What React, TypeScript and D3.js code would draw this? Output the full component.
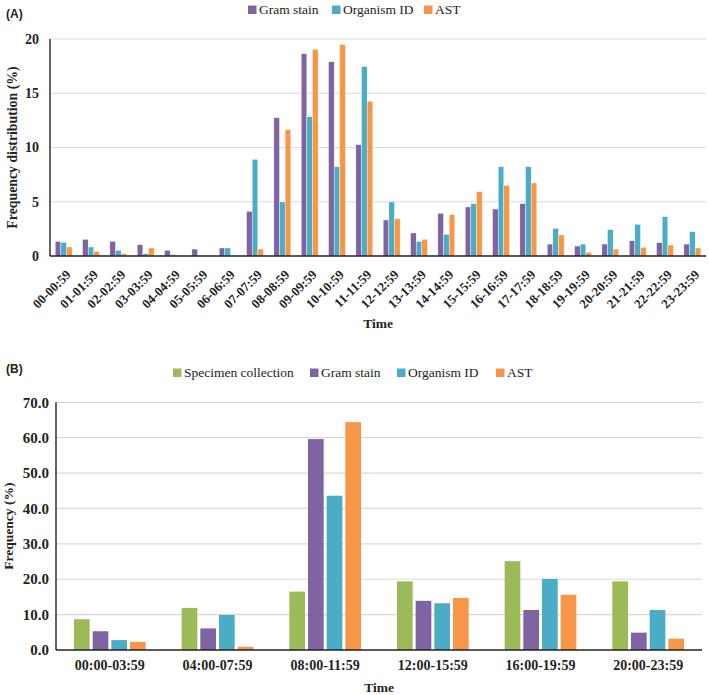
import * as d3 from "d3";

// Panel A: hourly distribution
const hourLabels = [
  "00-00:59", "01-01:59", "02-02:59", "03-03:59", "04-04:59", "05-05:59",
  "06-06:59", "07-07:59", "08-08:59", "09-09:59", "10-10:59", "11-11:59",
  "12-12:59", "13-13:59", "14-14:59", "15-15:59", "16-16:59", "17-17:59",
  "18-18:59", "19-19:59", "20-20:59", "21-21:59", "22-22:59", "23-23:59",
];
const hourGram = [1.35, 1.54, 1.35, 1.04, 0.52, 0.64, 0.74, 4.12, 12.75, 18.65, 17.9, 10.26, 3.32, 2.12, 3.93, 4.52, 4.33, 4.82, 1.1, 0.92, 1.1, 1.41, 1.23, 1.1];
const hourOrganism = [1.26, 0.83, 0.52, 0.22, 0.12, 0.03, 0.74, 8.91, 4.98, 12.84, 8.23, 17.45, 4.98, 1.35, 2.0, 4.82, 8.23, 8.23, 2.55, 1.1, 2.43, 2.92, 3.62, 2.24];
const hourAst = [0.83, 0.43, 0.22, 0.74, 0.05, 0.03, 0.05, 0.64, 11.64, 19.05, 19.48, 14.26, 3.44, 1.54, 3.81, 5.93, 6.51, 6.73, 1.94, 0.34, 0.64, 0.8, 1.01, 0.74];
const hourTicks = [0, 5, 10, 15, 20];

// Panel B: 4-hour blocks
const blockLabels = ["00:00-03:59", "04:00-07:59", "08:00-11:59", "12:00-15:59", "16:00-19:59", "20:00-23:59"];
const blockSpecimen = [8.7, 11.9, 16.5, 19.4, 25.1, 19.4];
const blockGram = [5.3, 6.1, 59.6, 13.9, 11.3, 4.9];
const blockOrganism = [2.8, 9.9, 43.6, 13.2, 20.1, 11.3];
const blockAst = [2.3, 0.9, 64.4, 14.7, 15.6, 3.2];
const blockTicks = [0, 10, 20, 30, 40, 50, 60, 70];

const GREEN = "#9bbb59";
const PURPLE = "#8064a2";
const CYAN = "#4bacc6";
const ORANGE = "#f79646";
const SERIF = "'Liberation Serif', 'Times New Roman', serif";

type Series = { name: string; color: string; values: number[] };

function Legend({ items, y }: { items: { name: string; color: string; x: number }[]; y: number }) {
  return (
    <g>
      {items.map((it) => (
        <g key={it.name}>
          <rect x={it.x} y={y - 8.5} width={8.5} height={8.5} fill={it.color} />
          <text x={it.x + 11} y={y} fontFamily={SERIF} fontSize={13.5} fill="#222">{it.name}</text>
        </g>
      ))}
    </g>
  );
}

export default function App() {
  // ---- Panel A ----
  const aLeft = 50, aRight = 706, aTop = 39, aBottom = 256;
  const ax = d3.scaleBand().domain(hourLabels).range([aLeft, aRight]).paddingInner(0.38).paddingOuter(0.19);
  const ay = d3.scaleLinear().domain([0, 20]).range([aBottom, aTop]);
  const aSeries: Series[] = [
    { name: "Gram stain", color: PURPLE, values: hourGram },
    { name: "Organism ID", color: CYAN, values: hourOrganism },
    { name: "AST", color: ORANGE, values: hourAst },
  ];
  const ax1 = d3.scaleBand().domain(aSeries.map((s) => s.name)).range([0, ax.bandwidth()]).padding(0);

  // ---- Panel B ----
  const bLeft = 56, bRight = 702, bTop = 402.3, bBottom = 650;
  const bx = d3.scaleBand().domain(blockLabels).range([bLeft, bRight]).paddingInner(0.334).paddingOuter(0.167);
  const by = d3.scaleLinear().domain([0, 70]).range([bBottom, bTop]);
  const bSeries: Series[] = [
    { name: "Specimen collection", color: GREEN, values: blockSpecimen },
    { name: "Gram stain", color: PURPLE, values: blockGram },
    { name: "Organism ID", color: CYAN, values: blockOrganism },
    { name: "AST", color: ORANGE, values: blockAst },
  ];
  const bx1 = d3.scaleBand().domain(bSeries.map((s) => s.name)).range([0, bx.bandwidth()]).paddingInner(0.16);

  return (
    <div style={{ position: "absolute", left: 0, top: 0, background: "#fff" }}>
      <svg width={709} height={695} style={{ display: "block" }}>
        <rect width={709} height={695} fill="#fff" />

        {/* ===== Panel A ===== */}
        <text x={6} y={18} fontFamily="'Liberation Sans', Arial, sans-serif" fontWeight="bold" fontSize={12} fill="#222">(A)</text>
        <Legend
          y={14}
          items={[
            { name: "Gram stain", color: PURPLE, x: 248 },
            { name: "Organism ID", color: CYAN, x: 332 },
            { name: "AST", color: ORANGE, x: 424 },
          ]}
        />
        {hourTicks.filter((t) => t > 0).map((t) => (
          <line key={t} x1={aLeft} x2={aRight} y1={ay(t)} y2={ay(t)} stroke="#d9d9d9" strokeWidth={1.2} />
        ))}
        {hourTicks.map((t) => (
          <text key={t} x={39} y={ay(t)} dy="0.35em" textAnchor="end" fontFamily={SERIF} fontWeight="bold" fontSize={14} fill="#222">{t}</text>
        ))}
        {hourLabels.map((lab, i) => (
          <g key={lab} transform={`translate(${ax(lab)!},0)`}>
            {aSeries.map((s) => (
              <rect
                key={s.name}
                x={ax1(s.name)!}
                y={ay(s.values[i])}
                width={ax1.bandwidth()}
                height={aBottom - ay(s.values[i])}
                fill={s.color}
                stroke="#fff"
                strokeWidth={0.4}
              />
            ))}
          </g>
        ))}
        <line x1={aLeft} x2={aLeft} y1={aTop} y2={aBottom} stroke="#222" strokeWidth={1.4} />
        <line x1={aLeft} x2={aRight} y1={aBottom} y2={aBottom} stroke="#222" strokeWidth={1.4} />
        {hourLabels.map((lab) => (
          <text
            key={lab}
            transform={`translate(${ax(lab)! + ax.bandwidth() / 2 + 1.5},${aBottom + 13}) rotate(-45)`}
            dy="0.7em"
            textAnchor="end"
            fontFamily={SERIF}
            fontWeight="bold"
            fontSize={13}
            fill="#222"
          >
            {lab}
          </text>
        ))}
        <text
          transform={`translate(17,${(aTop + aBottom) / 2}) rotate(-90)`}
          textAnchor="middle"
          fontFamily={SERIF}
          fontWeight="bold"
          fontSize={13.8}
          fill="#222"
        >
          Frequency distribution (%)
        </text>
        <text x={(aLeft + aRight) / 2} y={328} textAnchor="middle" fontFamily={SERIF} fontWeight="bold" fontSize={13.5} fill="#222">Time</text>

        {/* ===== Panel B ===== */}
        <text x={6} y={373} fontFamily="'Liberation Sans', Arial, sans-serif" fontWeight="bold" fontSize={12} fill="#222">(B)</text>
        <Legend
          y={377}
          items={[
            { name: "Specimen collection", color: GREEN, x: 173 },
            { name: "Gram stain", color: PURPLE, x: 310 },
            { name: "Organism ID", color: CYAN, x: 397 },
            { name: "AST", color: ORANGE, x: 496 },
          ]}
        />
        {blockTicks.filter((t) => t > 0).map((t) => (
          <line key={t} x1={bLeft} x2={bRight} y1={by(t)} y2={by(t)} stroke="#d9d9d9" strokeWidth={1.2} />
        ))}
        {blockTicks.map((t) => (
          <text key={t} x={49} y={by(t)} dy="0.35em" textAnchor="end" fontFamily={SERIF} fontWeight="bold" fontSize={15} fill="#222">{t.toFixed(1)}</text>
        ))}
        {blockLabels.map((lab, i) => (
          <g key={lab} transform={`translate(${bx(lab)!},0)`}>
            {bSeries.map((s) => (
              <rect
                key={s.name}
                x={bx1(s.name)!}
                y={by(s.values[i])}
                width={bx1.bandwidth()}
                height={bBottom - by(s.values[i])}
                fill={s.color}
              />
            ))}
          </g>
        ))}
        <line x1={bLeft} x2={bLeft} y1={bTop} y2={bBottom} stroke="#222" strokeWidth={1.4} />
        <line x1={bLeft} x2={bRight} y1={bBottom} y2={bBottom} stroke="#222" strokeWidth={1.4} />
        {blockLabels.map((lab) => (
          <text key={lab} x={bx(lab)! + bx.bandwidth() / 2} y={670} textAnchor="middle" fontFamily={SERIF} fontWeight="bold" fontSize={14} fill="#222">{lab}</text>
        ))}
        <text
          transform={`translate(13,${(bTop + bBottom) / 2}) rotate(-90)`}
          textAnchor="middle"
          fontFamily={SERIF}
          fontWeight="bold"
          fontSize={13.5}
          fill="#222"
        >
          Frequency (%)
        </text>
        <text x={(bLeft + bRight) / 2} y={692} textAnchor="middle" fontFamily={SERIF} fontWeight="bold" fontSize={13.5} fill="#222">Time</text>
      </svg>
    </div>
  );
}
